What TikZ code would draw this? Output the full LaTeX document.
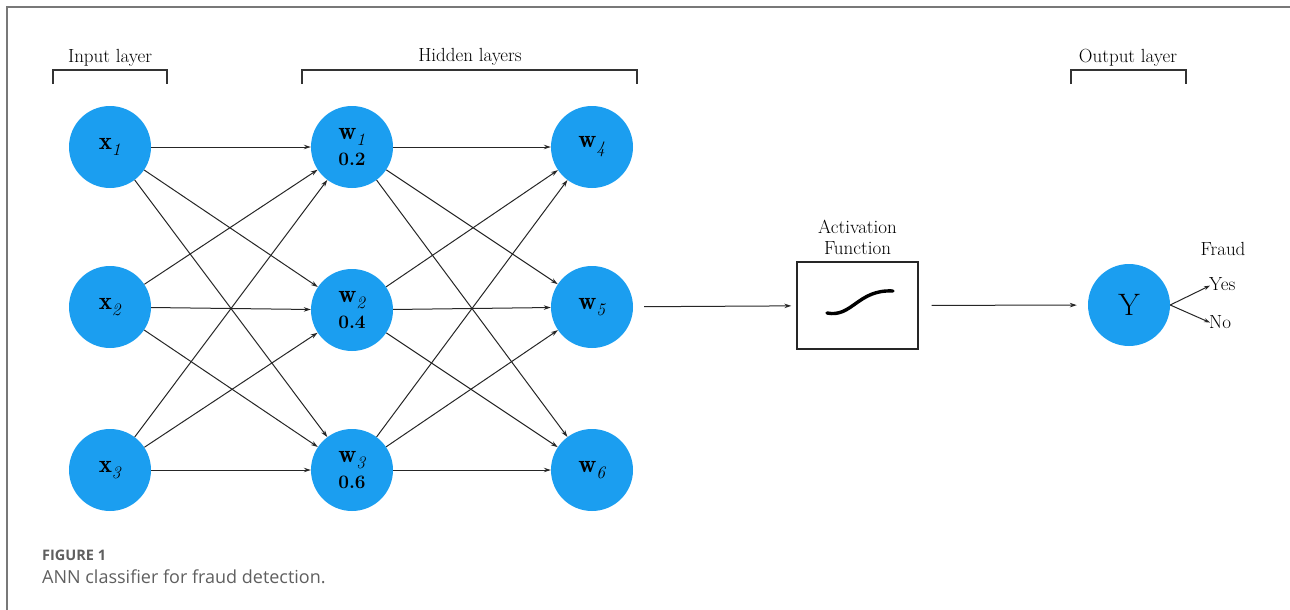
\documentclass[tikz,border=0pt]{standalone}
\usepackage{fontspec}
\newfontfamily\capfont{Open Sans}
\usetikzlibrary{arrows.meta}
\definecolor{nblue}{RGB}{27,158,240}
\definecolor{framegray}{RGB}{120,120,120}
\definecolor{capgray}{RGB}{95,95,95}
% bold variable with a lowered italic index
\newcommand{\nvar}[2]{$\mathbf{#1}_{\lower2pt\hbox{$\scriptstyle\mathit{#2}$}}$}
\tikzset{
  neuron/.style={circle, fill=nblue, minimum size=82pt, inner sep=0pt,
    font=\fontsize{25}{26}\selectfont, align=center},
  link/.style={-{Stealth[length=7pt,width=4.5pt]}, line width=1pt, draw=black!85},
  lbl/.style={font=\fontsize{19}{22}\selectfont, inner sep=0pt},
  bracket/.style={line width=1.1pt, draw=black!80},
}
\begin{document}
\begin{tikzpicture}[x=1pt,y=-1pt]
\useasboundingbox (0,0) rectangle (1290,610);

% outer frame (top and left rules)
\draw[framegray, line width=1.3pt] (7,610) -- (7,7) -- (1290,7);

% layer headings and brackets
\node[lbl, anchor=base] (hin) at (110,63) {Input layer};
\node[lbl, anchor=base] (hhid) at (470,62) {Hidden layers};
\node[lbl, anchor=base] (hout) at (1128,63) {Output layer};
\draw[bracket] (53,84) -- (53,70) -- (167,70) -- (167,84);
\draw[bracket] (302,84) -- (302,70) -- (637,70) -- (637,84);
\draw[bracket] (1071,84) -- (1071,70) -- (1186,70) -- (1186,84);

% input layer
\node[neuron] (x1) at (110,147) {\nvar{x}{1}};
\node[neuron] (x2) at (110,307) {\nvar{x}{2}};
\node[neuron] (x3) at (110,470) {\nvar{x}{3}};

% first hidden layer
\node[neuron] (w1) at (352,147) {\nvar{w}{1}\\[0pt]{\fontsize{19}{20}\selectfont\textbf{0.2}}};
\node[neuron] (w2) at (352,310) {\nvar{w}{2}\\[0pt]{\fontsize{19}{20}\selectfont\textbf{0.4}}};
\node[neuron] (w3) at (352,470) {\nvar{w}{3}\\[0pt]{\fontsize{19}{20}\selectfont\textbf{0.6}}};

% second hidden layer
\node[neuron] (w4) at (592,147) {\nvar{w}{4}};
\node[neuron] (w5) at (592,307) {\nvar{w}{5}};
\node[neuron] (w6) at (592,470) {\nvar{w}{6}};

% fully connected links
\foreach \a in {x1,x2,x3}
  \foreach \b in {w1,w2,w3}
    \draw[link] (\a) -- (\b);
\foreach \a in {w1,w2,w3}
  \foreach \b in {w4,w5,w6}
    \draw[link] (\a) -- (\b);

% activation function block
\node[draw=black!85, line width=1.3pt, minimum width=121pt, minimum height=87pt, inner sep=0pt]
  (act) at (857.5,305.5) {};
\node[lbl, anchor=base] (acttxt1) at (857.5,233) {Activation};
\node[lbl, anchor=base] (acttxt2) at (857.5,254) {Function};
\draw[line width=3.4pt, line cap=round] (827,313) .. controls (852,318) and (858,289) .. (893,291);

% output neuron
\node[neuron, font=\fontsize{31}{32}\selectfont] (y) at (1129,305) {Y};

\draw[link, shorten <=11pt, shorten >=5pt] (w5) -- (act);
\draw[link, shorten <=13pt, shorten >=11pt] (act) -- (y);

% decision labels
\node[lbl, anchor=base] (fraud) at (1223,255) {Fraud};
\node[lbl, anchor=base west] (yes) at (1209,290) {Yes};
\node[lbl, anchor=base west] (no) at (1209,328) {No};
\draw[link, -{Stealth[length=6pt,width=4pt]}] (y.east) -- ([xshift=1pt,yshift=-2pt]yes.west);
\draw[link, -{Stealth[length=6pt,width=4pt]}] (y.east) -- ([xshift=1pt,yshift=-1pt]no.west);

% caption
\node[anchor=base west, inner sep=0pt, text=capgray, font=\capfont\bfseries\fontsize{14.5}{17}\selectfont] (figlbl) at (42,560) {FIGURE 1};
\node[anchor=base west, inner sep=0pt, text=capgray, font=\capfont\fontsize{18}{21}\selectfont] (figcap) at (42,583) {ANN classifier for fraud detection.};
\end{tikzpicture}
\end{document}
